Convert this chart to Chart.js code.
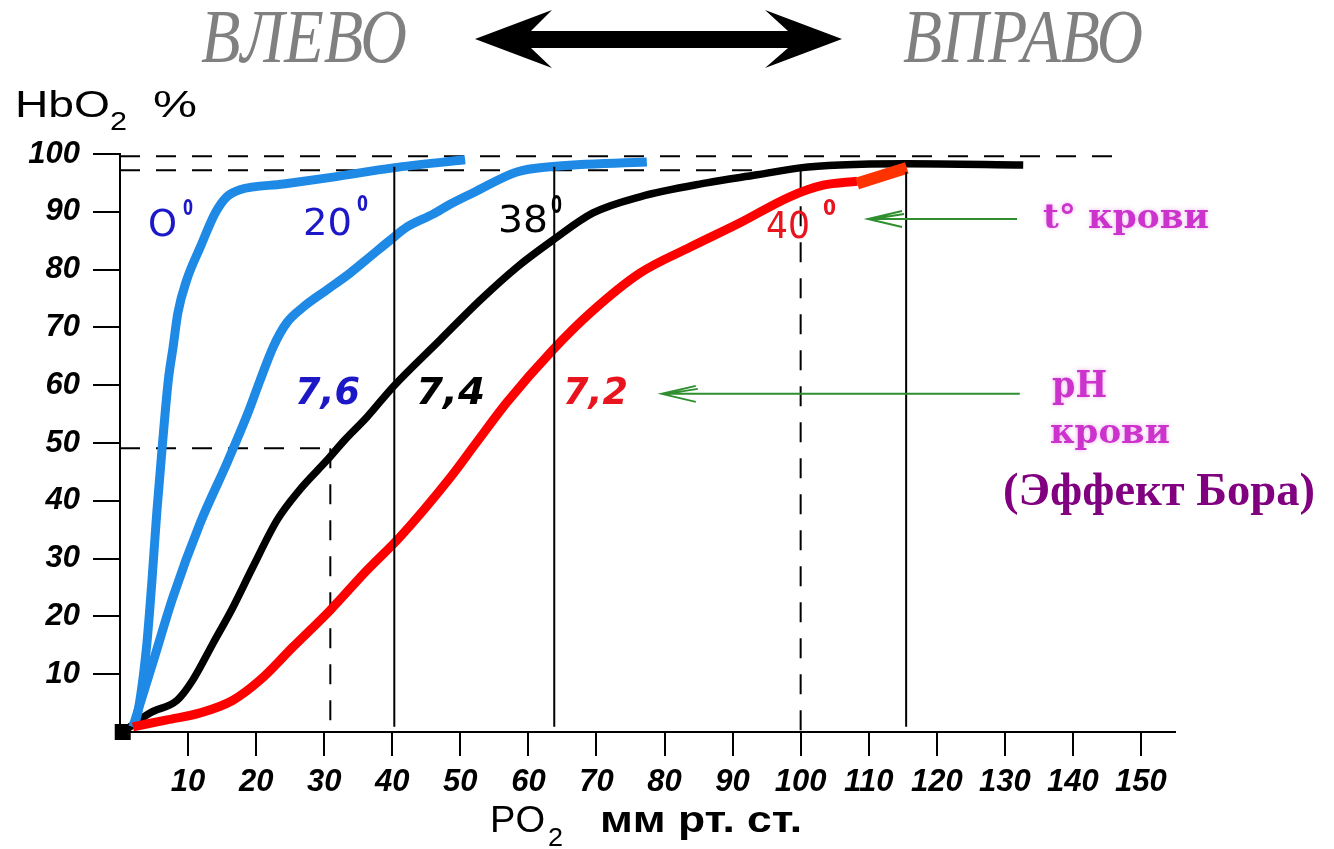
<!DOCTYPE html>
<html lang="ru">
<head>
<meta charset="utf-8">
<title>Кривые диссоциации оксигемоглобина</title>
<script src="https://cdn.jsdelivr.net/npm/chart.js@4.4.1/dist/chart.umd.min.js"></script>
<style>
  html, body { margin: 0; padding: 0; background: #fff; }
  #wrap { width: 1334px; height: 849px; }
</style>
</head>
<body>
<div id="wrap"><canvas id="grafica" width="1334" height="849"></canvas></div>
<script>
// PO2 (мм рт. ст.) -> HbO2 (%)
const po2_0 = [1.9, 2.6, 3.9, 4.7, 5.4, 6.2, 7.1, 7.8, 8.5, 9.8, 11.8, 14.0, 15.7, 17.6, 24.0, 31.3, 40.1, 50.7];
const hb_0 = [0.9, 3.3, 14.7, 26.3, 37.9, 49.3, 60.9, 66.6, 72.5, 78.2, 83.9, 89.8, 92.6, 93.8, 94.8, 96.0, 97.6, 99.0];

const po2_20 = [1.9, 4.8, 7.8, 11.8, 15.7, 18.8, 20.6, 22.5, 24.5, 26.9, 30.4, 33.8, 36.7, 39.7, 42.2, 46.0, 48.5, 51.9, 58.3, 63.2, 77.4];
const hb_20 = [0.9, 11.9, 23.4, 36.2, 46.5, 55.2, 60.9, 66.6, 70.8, 73.5, 76.5, 79.4, 82.2, 85.1, 87.4, 89.6, 91.3, 93.3, 96.9, 97.8, 98.6];

const po2_38 = [0.4, 4.4, 8.4, 10.7, 13.7, 16.6, 19.5, 23.1, 26.4, 30.4, 33.0, 36.3, 40.1, 47.0, 52.9, 58.3, 63.6, 69.5, 76.4, 86.2, 93.6, 99.9, 105.8, 115.6, 132.7];
const hb_38 = [0, 3.3, 5.5, 9.0, 15.4, 21.6, 28.5, 36.7, 41.9, 47.0, 50.5, 54.5, 59.7, 67.8, 74.7, 80.4, 85.1, 89.8, 92.6, 95.0, 96.4, 97.6, 98.1, 98.3, 98.1];

const po2_40 = [1.9, 6.9, 11.8, 16.6, 20.6, 25.4, 30.9, 36.3, 41.1, 48.5, 52.2, 56.9, 63.6, 69.1, 76.4, 83.8, 91.1, 98.4, 103.3, 108.3];
const hb_40 = [0.9, 2.1, 3.3, 5.5, 9.0, 14.7, 21.1, 28.0, 33.7, 44.0, 49.8, 57.1, 66.1, 72.5, 79.4, 83.9, 88.1, 92.6, 94.6, 95.3];

// orange piece at the end of the 40° curve
const po2_end = [108.3, 115.6];
const hb_end = [94.9, 97.6];

// dashed guide lines
const dashX = [[0, 147.4], [0, 100], [100, 100], [0, 30.9], [30.9, 30.9]];
const dashY = [[99.6, 99.6], [97.2, 97.2], [97.2, 0], [49.1, 49.1], [49.1, 0]];

// thin solid verticals
const vertX = [40.3, 63.8, 115.5];
const vertTop = [97.8, 97.8, 96.9];
const vertBottom = [0.9, 0.9, 0.9];

// green pointer arrows: [x start, x tip, y]
const pointers = [[131.8, 109.9, 88.75], [132.2, 79.6, 58.5]];

const xTicks = [10, 20, 30, 40, 50, 60, 70, 80, 90, 100, 110, 120, 130, 140, 150];
const yTicks = [10, 20, 30, 40, 50, 60, 70, 80, 90, 100];

const pares = (xs, ys) => xs.map((x, i) => ({ x, y: ys[i] }));

function curva(xs, ys, color, ancho, orden) {
  return {
    data: pares(xs, ys),
    showLine: true,
    borderColor: color,
    backgroundColor: color,
    borderWidth: ancho,
    pointRadius: 0,
    cubicInterpolationMode: "monotone",
    borderJoinStyle: "round",
    clip: false,
    order: orden
  };
}

const datasets = [];

dashX.forEach((xs, i) => {
  datasets.push({
    data: pares(xs, dashY[i]),
    showLine: true,
    borderColor: "#000",
    borderWidth: 2,
    borderDash: [20, 16],
    pointRadius: 0,
    order: 10
  });
});

datasets.push(curva(po2_0, hb_0, "#1e8ae6", 9, 3));
datasets.push(curva(po2_20, hb_20, "#1e8ae6", 9, 3));
const negra = curva(po2_38, hb_38, "#000", 7.5, 4);
negra.pointStyle = "rect";
negra.pointRadius = ctx => (ctx.dataIndex === 0 ? 6 : 0);
datasets.push(negra);
datasets.push(curva(po2_40, hb_40, "#ff0000", 9, 2));
const naranja = curva(po2_end, hb_end, "#ff3300", 12, 1);
naranja.cubicInterpolationMode = "default";
datasets.push(naranja);

vertX.forEach((x, i) => {
  datasets.push({
    data: [{ x, y: vertTop[i] }, { x, y: vertBottom[i] }],
    showLine: true,
    borderColor: "#000",
    borderWidth: 2,
    pointRadius: 0,
    order: 0
  });
});

// text drawn at left/baseline, squeezed to the width it has in the picture
function texto(c, s, x, y, font, color, ancho) {
  c.save();
  c.font = font;
  c.fillStyle = color;
  c.textAlign = "left";
  c.textBaseline = "alphabetic";
  const w = c.measureText(s).width;
  c.translate(x, y);
  if (ancho) c.scale(ancho / w, 1);
  c.fillText(s, 0, 0);
  c.restore();
}

const rotulos = {
  id: "rotulos",
  afterDraw(chart) {
    const c = chart.ctx;
    const sx = chart.scales.x;
    const sy = chart.scales.y;

    // top: ВЛЕВО <-> ВПРАВО
    texto(c, "ВЛЕВО", 201, 62, "italic 76px 'Liberation Serif', serif", "#808080", 206);
    texto(c, "ВПРАВО", 903, 62, "italic 76px 'Liberation Serif', serif", "#808080", 240);
    const flecha = [[475, 39], [552, 10], [531, 31], [788, 31], [765, 10], [842, 39], [765, 68], [788, 48], [531, 48], [552, 68]];
    c.save();
    c.fillStyle = "#000";
    c.beginPath();
    flecha.forEach((p, i) => (i ? c.lineTo(p[0], p[1]) : c.moveTo(p[0], p[1])));
    c.closePath();
    c.fill();
    c.restore();

    // axis titles
    const sans = "'Liberation Sans', Arial, sans-serif";
    texto(c, "HbO", 15, 117, "37px " + sans, "#000", 95);
    texto(c, "2", 110, 130, "26px " + sans, "#000", 17);
    texto(c, "%", 153, 117, "37px " + sans, "#000", 44);
    texto(c, "PO", 490, 832, "37px " + sans, "#000", 55);
    texto(c, "2", 548, 846, "26px " + sans, "#000", 15);
    texto(c, "мм рт. ст.", 600, 832, "bold 36px " + sans, "#000", 202);

    // curve labels
    const dv = "'DejaVu Sans', sans-serif";
    const azul = "#1c18c8";
    const rojo = "#e8141e";
    texto(c, "O", 148, 236, "37px " + dv, azul, 29);
    texto(c, "0", 183, 215, "bold 21px " + dv, azul, 10);
    texto(c, "20", 303, 235, "37px " + dv, azul, 49);
    texto(c, "0", 357, 211, "bold 21px " + dv, azul, 11);
    texto(c, "38", 498, 232, "37px " + dv, "#000", 50);
    texto(c, "0", 551, 213, "bold 24px " + dv, "#000", 11);
    texto(c, "40", 766, 238, "37px " + dv, rojo, 44);
    texto(c, "0", 823, 215, "bold 22px " + dv, rojo, 13);
    texto(c, "7,6", 295, 404, "bold italic 37px " + dv, azul, 65);
    texto(c, "7,4", 416, 404, "bold italic 37px " + dv, "#000", 69);
    texto(c, "7,2", 563, 404, "bold italic 37px " + dv, rojo, 65);

    // right side notes
    const serif = "'DejaVu Serif', serif";
    c.save();
    c.shadowColor = "rgba(230,140,230,0.7)";
    c.shadowBlur = 4;
    texto(c, "t° крови", 1043, 228, "bold 34px " + serif, "#cc33cc", 166);
    texto(c, "pH", 1052, 397, "bold 38px " + serif, "#cc33cc", 55);
    texto(c, "крови", 1050, 443, "bold 33px " + serif, "#cc33cc", 120);
    c.restore();
    texto(c, "(Эффект Бора)", 1003, 505, "bold 46px 'Liberation Serif', serif", "#800080", 312);

    // green pointers
    c.save();
    c.strokeStyle = "#2f8f2f";
    c.lineWidth = 2;
    pointers.forEach(p => {
      const x1 = sx.getPixelForValue(p[0]);
      const x2 = sx.getPixelForValue(p[1]);
      const yy = sy.getPixelForValue(p[2]);
      c.beginPath();
      c.moveTo(x1, yy);
      c.lineTo(x2, yy);
      c.moveTo(x2 + 34, yy - 8);
      c.lineTo(x2, yy);
      c.lineTo(x2 + 34, yy + 8);
      c.moveTo(x2 + 36, yy - 5);
      c.lineTo(x2 + 4, yy);
      c.stroke();
    });
    c.restore();
  }
};

const fuenteTicks = { family: "'Liberation Sans', Arial, sans-serif", size: 31, style: "italic", weight: "bold" };

new Chart(document.getElementById("grafica"), {
  type: "scatter",
  data: { datasets },
  options: {
    responsive: false,
    animation: false,
    layout: { padding: { left: 0, top: 154, right: 159, bottom: 0 } },
    plugins: {
      legend: { display: false },
      tooltip: { enabled: false }
    },
    scales: {
      x: {
        type: "linear",
        min: 0,
        max: 155,
        afterFit: s => { s.height = 117; },
        afterBuildTicks: s => { s.ticks = xTicks.map(v => ({ value: v })); },
        grid: { drawOnChartArea: false, drawTicks: true, tickLength: 24, color: "#000", lineWidth: 2 },
        border: { display: true, color: "#000", width: 2 },
        ticks: { color: "#000", font: fuenteTicks, padding: 8, maxRotation: 0, autoSkip: false }
      },
      y: {
        type: "linear",
        min: 0,
        max: 100,
        afterFit: s => { s.width = 120; },
        afterBuildTicks: s => { s.ticks = yTicks.map(v => ({ value: v })); },
        grid: { drawOnChartArea: false, drawTicks: true, tickLength: 27, color: "#000", lineWidth: 2 },
        border: { display: true, color: "#000", width: 2 },
        ticks: { color: "#000", font: fuenteTicks, padding: 13 }
      }
    }
  },
  plugins: [rotulos]
});
</script>
</body>
</html>
